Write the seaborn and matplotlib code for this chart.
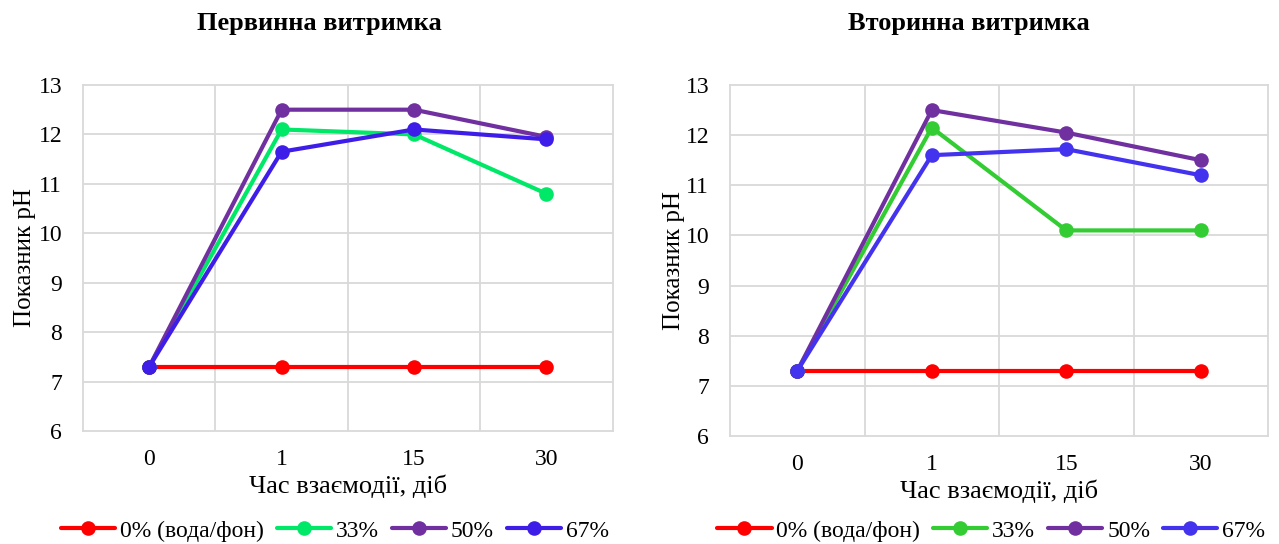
import matplotlib
matplotlib.use("Agg")
import matplotlib.pyplot as plt
import seaborn as sns
import pandas as pd
from matplotlib.lines import Line2D

# Exposure time (days) and pH readings
days = ["0", "1", "15", "30"]
series_names = ["0% (вода/фон)", "33%", "50%", "67%"]

primary_0 = [7.3, 7.3, 7.3, 7.3]
primary_33 = [7.3, 12.1, 12.0, 10.8]
primary_50 = [7.3, 12.5, 12.5, 11.95]
primary_67 = [7.3, 11.65, 12.1, 11.9]

secondary_0 = [7.3, 7.3, 7.3, 7.3]
secondary_33 = [7.3, 12.15, 10.1, 10.1]
secondary_50 = [7.3, 12.5, 12.05, 11.5]
secondary_67 = [7.3, 11.6, 11.72, 11.2]

titles = ["Первинна витримка", "Вторинна витримка"]
x_label = "Час взаємодії, діб"
y_label = "Показник pH"

colors_primary = ["#FF0000", "#00E868", "#7030A0", "#3F1DE8"]
colors_secondary = ["#FF0000", "#33CC33", "#7030A0", "#4433EE"]

sns.set_theme(style="white")
plt.rcParams["font.family"] = ["Liberation Serif", "DejaVu Serif"]
plt.rcParams.update({"text.color": "black", "axes.labelcolor": "black",
                     "xtick.color": "black", "ytick.color": "black"})

def long_frame(values):
    rows = []
    for name, vals in zip(series_names, values):
        for i, (d, v) in enumerate(zip(days, vals)):
            rows.append({"pos": i, "day": d, "series": name, "pH": v})
    return pd.DataFrame(rows)

fig = plt.figure(figsize=(12.79, 5.44), dpi=100)
ax1 = fig.add_axes([0.0649, 0.2077, 0.479 - 0.0649, 0.6361])
ax2 = fig.add_axes([0.5708, 0.1985, 0.9914 - 0.5708, 0.6453])

panels = [
    (ax1, [primary_0, primary_33, primary_50, primary_67], colors_primary,
     titles[0], 0.2494, 0.262, -0.088),
    (ax2, [secondary_0, secondary_33, secondary_50, secondary_67], colors_secondary,
     titles[1], 0.7576, 0.775, -0.083),
]

grid_color = "#D9D9D9"
for ax, vals, cols, title, tx, legx, ylx in panels:
    df = long_frame(vals)
    sns.lineplot(data=df, x="pos", y="pH", hue="series", hue_order=series_names,
                 palette=cols, marker="o", markersize=10.5, markeredgewidth=0,
                 linewidth=3.0, ax=ax, legend=False, sort=False)
    ax.set_xlim(-0.5, 3.5)
    ax.set_ylim(6, 13)
    ax.set_yticks(range(6, 14))
    ax.set_xticks(range(len(days)))
    ax.set_xticklabels(days)
    ax.tick_params(axis="y", labelsize=17, length=0, pad=15)
    ax.tick_params(axis="x", labelsize=17, length=0, pad=13)
    for y in range(7, 13):
        ax.axhline(y, color=grid_color, lw=1.3, zorder=0)
    for x in (0.5, 1.5, 2.5):
        ax.axvline(x, color=grid_color, lw=1.3, zorder=0)
    for s in ax.spines.values():
        s.set_color(grid_color)
        s.set_linewidth(1.3)
    ax.set_xlabel(x_label, fontsize=19, labelpad=3)
    ax.set_ylabel(y_label, fontsize=18)
    ax.yaxis.set_label_coords(ylx, 0.5)

    handles = [Line2D([0], [0], color=c, lw=3.0, marker="o", markersize=10.5,
                      markeredgewidth=0) for c in cols]
    fig.legend(handles, series_names, loc="center", bbox_to_anchor=(legx, 0.024),
               ncol=4, frameon=False, fontsize=17, handlelength=2.3,
               handletextpad=0.2, columnspacing=0.55)
    fig.text(tx, 0.957, title, ha="center", va="center", fontsize=19,
             fontweight="bold")

fig.savefig("out.png", dpi=100)
